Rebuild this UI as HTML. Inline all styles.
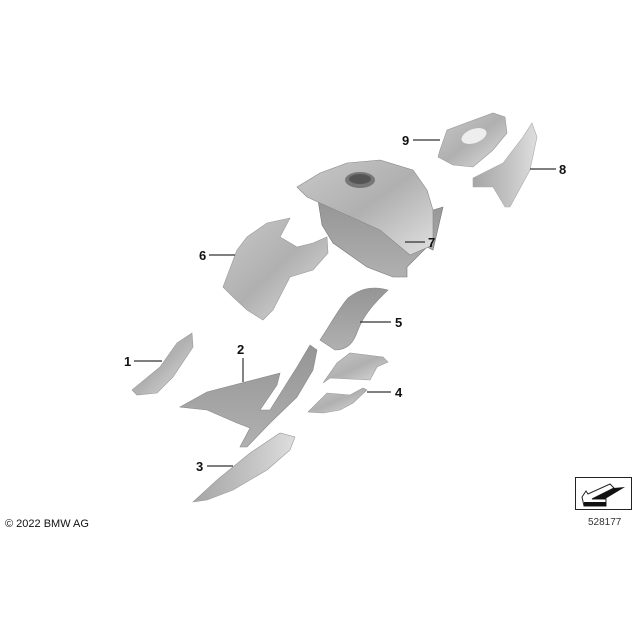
<!DOCTYPE html>
<html><head><meta charset="utf-8"><style>
html,body{margin:0;padding:0;background:#fff;}
svg{display:block;}
text{font-family:"Liberation Sans",sans-serif;}
.l{font-weight:bold;font-size:13px;fill:#111;}
.ln{stroke:#333;stroke-width:1.2;fill:none;}
</style></head><body>
<svg width="640" height="640" viewBox="0 0 640 640" xmlns="http://www.w3.org/2000/svg">
<defs>
<linearGradient id="g1" x1="0" y1="0" x2="1" y2="1"><stop offset="0" stop-color="#c8c8c8"/><stop offset="0.5" stop-color="#b0b0b0"/><stop offset="1" stop-color="#e0e0e0"/></linearGradient>
<linearGradient id="g2" x1="0" y1="0" x2="1" y2="0"><stop offset="0" stop-color="#a5a5a5"/><stop offset="0.6" stop-color="#c5c5c5"/><stop offset="1" stop-color="#dedede"/></linearGradient>
<linearGradient id="g3" x1="0" y1="0" x2="0" y2="1"><stop offset="0" stop-color="#959595"/><stop offset="1" stop-color="#b0b0b0"/></linearGradient>
</defs>
<!-- 9 -->
<polygon points="440,150 447,130 493,113 505,117 507,133 493,150 473,167 453,165 438,157" fill="url(#g1)" stroke="#999" stroke-width="0.6"/>
<ellipse cx="474" cy="136" rx="13" ry="7" fill="#eee" transform="rotate(-20 474 136)"/>
<!-- 8 -->
<polygon points="473,178 503,163 523,137 532,123 537,137 530,170 510,207 505,207 493,187 473,187" fill="url(#g2)" stroke="#aaa" stroke-width="0.6"/>
<!-- tank -->
<polygon points="318,200 322,225 333,243 367,267 393,277 407,277 407,267 427,247 433,250 443,207 433,210" fill="url(#g3)" stroke="#777" stroke-width="0.6"/>
<polygon points="297,187 320,173 347,163 380,160 413,170 427,190 433,210 433,245 410,255 380,230 340,212 320,203 307,197" fill="url(#g1)" stroke="#888" stroke-width="0.6"/>
<ellipse cx="360" cy="180" rx="15" ry="8" fill="#777"/>
<ellipse cx="360" cy="179" rx="11" ry="5" fill="#555"/>
<!-- 6 -->
<polygon points="223,287 237,250 247,237 267,223 290,218 280,237 297,247 313,243 327,237 328,253 313,270 290,277 273,310 263,320 247,310 233,297" fill="url(#g1)" stroke="#999" stroke-width="0.6"/>
<!-- 5 -->
<path d="M320,340 C330,325 338,310 348,298 C358,290 370,285 388,290 C378,300 365,312 358,330 C354,342 348,350 335,350 Z" fill="url(#g3)" stroke="#888" stroke-width="0.6"/>
<!-- 1 -->
<polygon points="132,390 160,367 177,343 192,333 193,347 173,377 157,393 137,395" fill="url(#g1)" stroke="#999" stroke-width="0.6"/>
<!-- 2 -->
<polygon points="180,407 207,392 280,373 277,385 260,410 270,410 297,367 310,345 317,350 313,370 297,397 270,423 247,447 240,447 250,428 237,423 207,410" fill="url(#g3)" stroke="#888" stroke-width="0.6"/>
<!-- 3 -->
<polygon points="193,502 217,480 250,453 280,433 295,437 290,450 267,470 233,490 207,500" fill="url(#g2)" stroke="#999" stroke-width="0.6"/>
<!-- 4 -->
<polygon points="323,383 337,363 350,353 383,357 388,362 377,367 370,380 330,378" fill="url(#g1)" stroke="#999" stroke-width="0.6"/>
<polygon points="308,412 327,393 350,395 363,388 367,390 353,403 340,410 323,413" fill="url(#g1)" stroke="#999" stroke-width="0.6"/>
<!-- labels -->
<text class="l" x="402" y="145">9</text><line class="ln" x1="413" y1="140" x2="440" y2="140"/>
<text class="l" x="559" y="174">8</text><line class="ln" x1="530" y1="169" x2="556" y2="169"/>
<text class="l" x="428" y="247">7</text><line class="ln" x1="405" y1="242" x2="425" y2="242"/>
<text class="l" x="199" y="260">6</text><line class="ln" x1="209" y1="255" x2="235" y2="255"/>
<text class="l" x="395" y="327">5</text><line class="ln" x1="360" y1="322" x2="391" y2="322"/>
<text class="l" x="124" y="366">1</text><line class="ln" x1="134" y1="361" x2="162" y2="361"/>
<text class="l" x="237" y="354">2</text><line class="ln" x1="243" y1="358" x2="243" y2="382"/>
<text class="l" x="395" y="397">4</text><line class="ln" x1="367" y1="392" x2="391" y2="392"/>
<text class="l" x="196" y="471">3</text><line class="ln" x1="207" y1="466" x2="233" y2="466"/>
<text x="5" y="527" font-size="11" fill="#111">© 2022 BMW AG</text>
<!-- icon -->
<rect x="575.5" y="477.5" width="56" height="32" fill="#fff" stroke="#222" stroke-width="1"/>
<polygon points="582,497 586,491 588,494 610,484 614,488 592,499 606,499 606,506 584,506" fill="#fff" stroke="#222" stroke-width="1"/>
<polygon points="584,502 606,502 606,506 584,506" fill="#111"/>
<polygon points="592,499 614,488 625,487 605,499" fill="#111"/>
<text x="588" y="525" font-size="10" fill="#333">528177</text>
</svg>
</body></html>
